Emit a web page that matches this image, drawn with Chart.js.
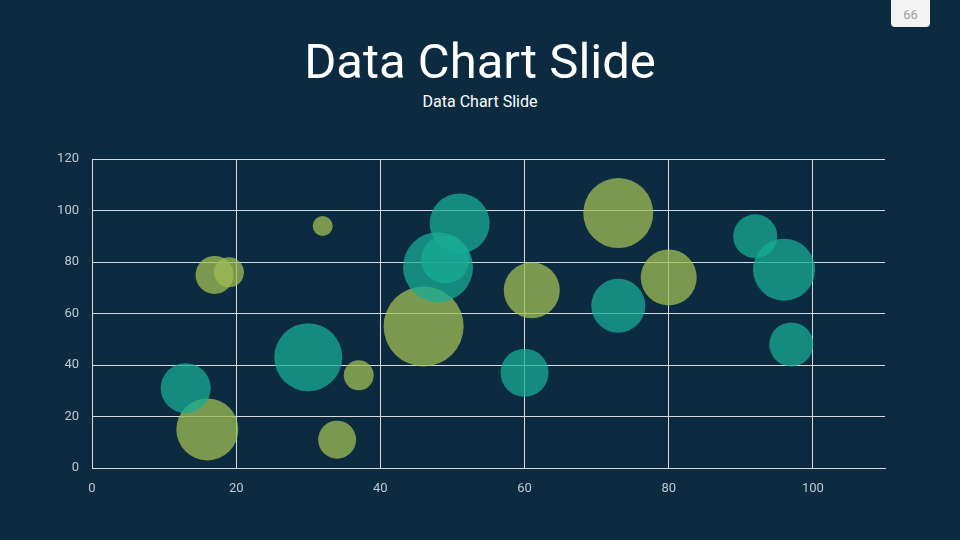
<!DOCTYPE html>
<html>
<head>
<meta charset="utf-8">
<script src="https://cdn.jsdelivr.net/npm/chart.js@4.4.0/dist/chart.umd.min.js"></script>
<style>
  html, body { margin: 0; padding: 0; background: #0c2a40; }
  #wrap { position: relative; width: 960px; height: 540px; overflow: hidden; font-family: Roboto, sans-serif; }
  #title { position: absolute; left: 0; width: 960px; top: 33px; text-align: center; color: #fff; font-size: 49px; line-height: 58px; }
  #sub { position: absolute; left: 0; width: 960px; top: 92px; text-align: center; color: #fff; font-size: 16px; line-height: 20px; }
  #badge { position: absolute; left: 891px; top: -4px; width: 39px; height: 31px; background: #f4f4f4; border-radius: 4px; color: #a0a0a0; font-size: 13px; line-height: 38px; text-align: center; }
  canvas { position: absolute; left: 0; top: 0; }
</style>
</head>
<body>
<div id="wrap">
  <div id="title">Data Chart Slide</div>
  <div id="sub">Data Chart Slide</div>
  <div id="badge">66</div>
  <canvas id="mycanvas" width="960" height="540"></canvas>
</div>
<script>
// teal series
var tealX = [13, 30, 48, 49, 51, 60, 73, 92, 96, 97];
var tealY = [31, 43, 78, 81, 95, 37, 63, 90, 77, 48];
var tealR = [25, 34, 35, 24, 30, 24, 27, 22, 31, 22];
// green series
var greenX = [16, 17, 19, 32, 34, 37, 46, 61, 73, 80];
var greenY = [15, 75, 76, 94, 11, 36, 55, 69, 99, 74];
var greenR = [31, 19, 15, 10, 19, 15, 40, 28, 35, 28];

var xTicks = [0, 20, 40, 60, 80, 100];

function points(xs, ys, rs) {
	var out = [];
	for (var i in xs) {
		out.push({ x: xs[i], y: ys[i], r: rs[i] });
	}
	return out;
}

var ctx = document.getElementById('mycanvas');

new Chart(ctx, {
	type: 'bubble',
	data: {
		datasets: [
			{
				label: 'Series 1',
				backgroundColor: 'rgba(24, 172, 149, 0.75)',
				borderWidth: 0,
				data: points(tealX, tealY, tealR)
			},
			{
				label: 'Series 2',
				backgroundColor: 'rgba(159, 189, 83, 0.75)',
				borderWidth: 0,
				data: points(greenX, greenY, greenR)
			}
		]
	},
	options: {
		responsive: false,
		animation: false,
		layout: { padding: { top: 159, right: 75, left: 0, bottom: 0 } },
		plugins: { legend: { display: false }, tooltip: { enabled: false } },
		scales: {
			x: {
				type: 'linear',
				min: 0,
				max: 110,
				afterBuildTicks: function(s) { s.ticks = xTicks.map(function(v) { return { value: v }; }); },
				afterFit: function(s) { s.height = 72; },
				grid: { color: '#d9d9d9', lineWidth: 1, drawTicks: false },
				border: { color: '#d9d9d9' },
				ticks: { color: '#c0c9d1', padding: 13, font: { family: 'Roboto', size: 13 } }
			},
			y: {
				min: 0,
				max: 120,
				afterFit: function(s) { s.width = 92; },
				grid: { color: '#d9d9d9', lineWidth: 1, drawTicks: false },
				border: { color: '#d9d9d9' },
				ticks: { stepSize: 20, color: '#c0c9d1', padding: 13, font: { family: 'Roboto', size: 13 } }
			}
		}
	}
});
</script>
</body>
</html>
